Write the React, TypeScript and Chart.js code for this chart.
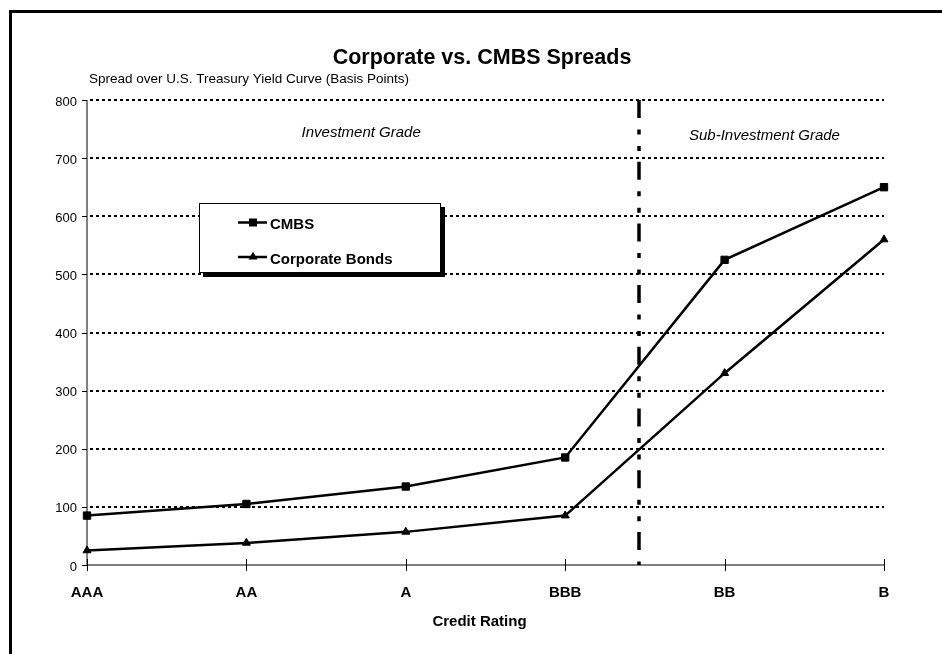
import React, { useEffect, useRef } from "react";
import { Chart, registerables } from "chart.js";

Chart.register(...registerables);

const FONT = "'Liberation Sans', Arial, Helvetica, sans-serif";

const categories = ["AAA", "AA", "A", "BBB", "BB", "B"];
const cmbs = [85, 105, 135, 185, 525, 650];
const corporate = [25, 38, 57, 85, 330, 560];
const seriesNames = ["CMBS", "Corporate Bonds"];
const yTicks = [0, 100, 200, 300, 400, 500, 600, 700, 800];
const titleText = "Corporate vs. CMBS Spreads";
const subtitleText = "Spread over U.S. Treasury Yield Curve (Basis Points)";
const xTitle = "Credit Rating";
const regionLabels = ["Investment Grade", "Sub-Investment Grade"];
const dividerAt = 3.46;

function drawMarker(ctx: CanvasRenderingContext2D, style: string, x: number, y: number) {
  ctx.beginPath();
  if (style === "rect") {
    ctx.rect(x - 4, y - 4, 8, 8);
  } else {
    const r = 5.2;
    ctx.moveTo(x, y - r);
    ctx.lineTo(x + r * 0.866, y + r / 2);
    ctx.lineTo(x - r * 0.866, y + r / 2);
    ctx.closePath();
  }
  ctx.fill();
}

const decor = {
  id: "decor",
  beforeDraw(chart: any) {
    const ctx: CanvasRenderingContext2D = chart.ctx;
    ctx.save();
    ctx.fillStyle = "#fff";
    ctx.fillRect(0, 0, chart.width, chart.height);
    ctx.strokeStyle = "#000";
    ctx.lineWidth = 3;
    ctx.strokeRect(10.5, 11.5, chart.width + 20, chart.height + 20);
    ctx.fillStyle = "#000";
    ctx.font = `bold 21.5px ${FONT}`;
    ctx.textAlign = "center";
    ctx.textBaseline = "alphabetic";
    ctx.fillText(titleText, 482, 63.5);
    ctx.font = `13.5px ${FONT}`;
    ctx.textAlign = "left";
    ctx.fillText(subtitleText, 89, 82.5);
    // x axis title
    ctx.font = `bold 15px ${FONT}`;
    ctx.textAlign = "center";
    ctx.textBaseline = "middle";
    ctx.fillText(xTitle, 479.5, 621.5);
    ctx.restore();
  },
  beforeDatasetsDraw(chart: any) {
    const ctx: CanvasRenderingContext2D = chart.ctx;
    const ca = chart.chartArea;
    const xs = chart.scales.x;
    const ys = chart.scales.y;
    ctx.save();
    // dotted gridlines
    ctx.strokeStyle = "#000";
    ctx.lineWidth = 2;
    ctx.setLineDash([3, 3]);
    yTicks.forEach((v) => {
      if (v === 0) return;
      const py = Math.round(ys.getPixelForValue(v));
      ctx.beginPath();
      ctx.moveTo(ca.left + 3, py);
      ctx.lineTo(ca.right, py);
      ctx.stroke();
    });
    ctx.setLineDash([]);
    // axes
    ctx.strokeStyle = "#808080";
    ctx.lineWidth = 2;
    ctx.beginPath();
    ctx.moveTo(ca.left, ca.top);
    ctx.lineTo(ca.left, ca.bottom);
    ctx.lineTo(ca.right, ca.bottom);
    ctx.stroke();
    // ticks
    ctx.strokeStyle = "#000";
    ctx.lineWidth = 1;
    categories.forEach((_, i) => {
      const px = Math.round(xs.getPixelForValue(i)) + 0.5;
      ctx.beginPath();
      ctx.moveTo(px, ca.bottom - 6);
      ctx.lineTo(px, ca.bottom + 6);
      ctx.stroke();
    });
    yTicks.forEach((v) => {
      const py = Math.round(ys.getPixelForValue(v)) + 0.5;
      ctx.beginPath();
      ctx.moveTo(ca.left - 5, py);
      ctx.lineTo(ca.left, py);
      ctx.stroke();
    });
    // dash-dot-dot divider
    const dx = Math.round(xs.getPixelForValue(dividerAt));
    ctx.lineWidth = 3.5;
    ctx.lineCap = "butt";
    ctx.setLineDash([18, 11.5, 5, 11.5, 5, 10.7]);
    ctx.beginPath();
    ctx.moveTo(dx, ca.top);
    ctx.lineTo(dx, ca.bottom);
    ctx.stroke();
    ctx.setLineDash([]);
    // region labels
    ctx.fillStyle = "#000";
    ctx.font = `italic 15px ${FONT}`;
    ctx.textAlign = "center";
    ctx.textBaseline = "alphabetic";
    ctx.fillText(regionLabels[0], xs.getPixelForValue(1.72), ys.getPixelForValue(737));
    ctx.fillText(regionLabels[1], xs.getPixelForValue(4.25), ys.getPixelForValue(732));
    ctx.restore();
  },
  afterDatasetsDraw(chart: any) {
    const ctx: CanvasRenderingContext2D = chart.ctx;
    ctx.save();
    // legend box with shadow
    ctx.fillStyle = "#000";
    ctx.fillRect(203, 207, 242, 70);
    ctx.fillStyle = "#fff";
    ctx.fillRect(199.5, 203.5, 241, 69);
    ctx.strokeStyle = "#000";
    ctx.lineWidth = 1;
    ctx.strokeRect(199.5, 203.5, 241, 69);
    const items = [
      { name: seriesNames[0], style: "rect", y: 222.5, ty: 224.5 },
      { name: seriesNames[1], style: "triangle", y: 257, ty: 259.5 },
    ];
    items.forEach((it) => {
      ctx.strokeStyle = "#000";
      ctx.lineWidth = 2.5;
      ctx.beginPath();
      ctx.moveTo(238, it.y);
      ctx.lineTo(267, it.y);
      ctx.stroke();
      ctx.fillStyle = "#000";
      drawMarker(ctx, it.style, 253, it.y);
      ctx.font = `bold 15px ${FONT}`;
      ctx.textAlign = "left";
      ctx.textBaseline = "middle";
      ctx.fillText(it.name, 270, it.ty);
    });
    ctx.restore();
  },
};

export default function App() {
  const ref = useRef<HTMLCanvasElement | null>(null);
  useEffect(() => {
    if (!ref.current) return;
    const chart = new Chart(ref.current, {
      type: "line",
      data: {
        labels: categories,
        datasets: [
          {
            label: seriesNames[0],
            data: cmbs,
            borderColor: "#000",
            backgroundColor: "#000",
            borderWidth: 2.5,
            pointStyle: "rect",
            pointRadius: 5.2,
            pointBorderWidth: 1,
            pointBackgroundColor: "#000",
            pointBorderColor: "#000",
            tension: 0,
            clip: false,
          },
          {
            label: seriesNames[1],
            data: corporate,
            borderColor: "#000",
            backgroundColor: "#000",
            borderWidth: 2.5,
            pointStyle: "triangle",
            pointRadius: 4.6,
            pointBorderWidth: 1,
            pointBackgroundColor: "#000",
            pointBorderColor: "#000",
            tension: 0,
            clip: false,
          },
        ],
      },
      options: {
        responsive: false,
        animation: false,
        devicePixelRatio: 1,
        layout: { padding: { left: 47, right: 58, top: 100, bottom: 0 } },
        plugins: {
          legend: { display: false },
          tooltip: { enabled: false },
          title: { display: false },
        },
        scales: {
          x: {
            type: "category",
            offset: false,
            grid: { display: false, drawTicks: false, tickLength: 0 },
            border: { display: false },
            ticks: {
              font: { family: FONT, size: 15, weight: "bold" },
              color: "#000",
              padding: 19,
              maxRotation: 0,
              autoSkip: false,
            },
            title: { display: false },
            afterFit(s: any) {
              s.height = 89;
            },
          },
          y: {
            min: 0,
            max: 800,
            grid: { display: false, drawTicks: false, tickLength: 0 },
            border: { display: false },
            ticks: {
              stepSize: 100,
              font: { family: FONT, size: 13 },
              color: "#000",
              padding: 10,
              labelOffset: 2,
            },
            afterFit(s: any) {
              s.width = 40;
            },
          },
        },
      } as any,
      plugins: [decor],
    });
    return () => chart.destroy();
  }, []);
  return (
    <div style={{ position: "absolute", left: 0, top: 0, width: 942, height: 654 }}>
      <canvas ref={ref} width={942} height={654} style={{ display: "block" }} />
    </div>
  );
}
